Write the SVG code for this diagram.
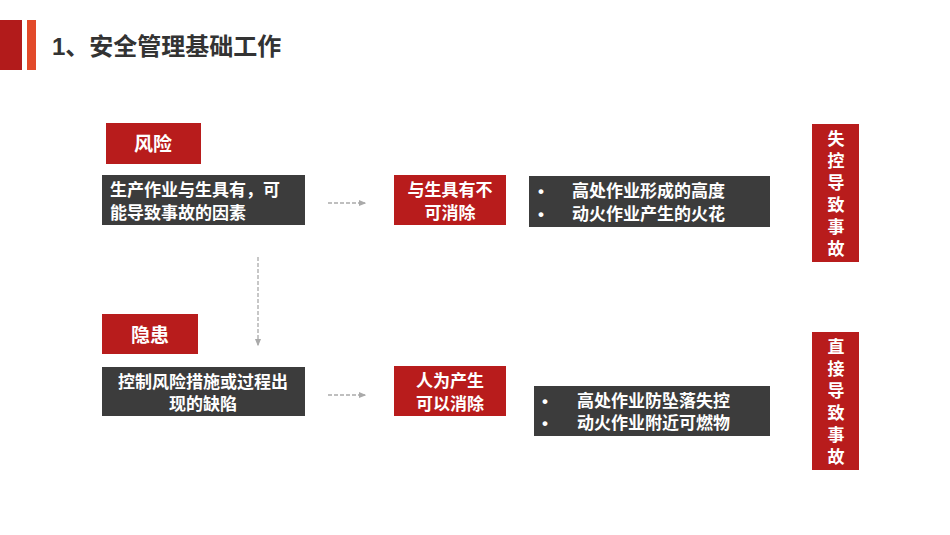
<svg xmlns="http://www.w3.org/2000/svg" width="950" height="535" viewBox="0 0 950 535">
<defs>
<style>
text{font-family:"Liberation Sans","Noto Sans CJK SC",sans-serif;font-weight:bold;fill:#fff}
.red{fill:#b81c1c}.dark{fill:#3c3c3c}
.t{font-size:17px}.big{font-size:19px}
.ln{stroke:#aaa;stroke-width:1.3;stroke-dasharray:4 2;fill:none}
</style>
<marker id="ar" markerWidth="6" markerHeight="6" refX="5" refY="3" orient="auto"><path d="M0,0.5 L6,3 L0,5.5z" fill="#aaa"/></marker>
</defs>
<rect width="950" height="535" fill="#fff"/>
<g id="title">
<rect x="0" y="20" width="22" height="50" fill="#b21b1b"/>
<rect x="27" y="20" width="9" height="50" fill="#e24a2a"/>
<text x="52" y="55" style="font-size:24px;fill:#333">1、安全管理基础工作</text>
</g>
<g id="connectors">
<line class="ln" x1="328" y1="203" x2="365" y2="203" marker-end="url(#ar)"/>
<line class="ln" x1="258" y1="257" x2="258" y2="345" marker-end="url(#ar)"/>
<line class="ln" x1="328" y1="395" x2="365" y2="395" marker-end="url(#ar)"/>
</g>
<g id="n1"><rect class="red" x="106" y="123" width="95" height="41"/><text class="big" x="153" y="151" text-anchor="middle">风险</text></g>
<g id="n2"><rect class="dark" x="102" y="175" width="203" height="50"/><text class="t" x="110" y="196">生产作业与生具有，可</text><text class="t" x="110" y="219">能导致事故的因素</text></g>
<g id="n3"><rect class="red" x="394" y="175" width="112" height="50"/><text class="t" x="450" y="196" text-anchor="middle">与生具有不</text><text class="t" x="450" y="219" text-anchor="middle">可消除</text></g>
<g id="n4"><rect class="dark" x="529" y="176" width="241" height="51"/><text class="t" x="538" y="197">•</text><text class="t" x="572" y="197">高处作业形成的高度</text><text class="t" x="538" y="220">•</text><text class="t" x="572" y="220">动火作业产生的火花</text></g>
<g id="n5"><rect class="red" x="102" y="314" width="96" height="40"/><text class="big" x="150" y="342" text-anchor="middle">隐患</text></g>
<g id="n6"><rect class="dark" x="102" y="367" width="203" height="49"/><text class="t" x="203" y="388" text-anchor="middle">控制风险措施或过程出</text><text class="t" x="203" y="410" text-anchor="middle">现的缺陷</text></g>
<g id="n7"><rect class="red" x="394" y="366" width="112" height="50"/><text class="t" x="450" y="387" text-anchor="middle">人为产生</text><text class="t" x="450" y="410" text-anchor="middle">可以消除</text></g>
<g id="n8"><rect class="dark" x="534" y="386" width="236" height="50"/><text class="t" x="542" y="407">•</text><text class="t" x="577" y="407">高处作业防坠落失控</text><text class="t" x="542" y="429">•</text><text class="t" x="577" y="429">动火作业附近可燃物</text></g>
<g id="n9"><rect class="red" x="812" y="124" width="47" height="138"/>
<text class="t" x="836" y="145" text-anchor="middle">失</text><text class="t" x="836" y="167" text-anchor="middle">控</text><text class="t" x="836" y="189" text-anchor="middle">导</text><text class="t" x="836" y="211" text-anchor="middle">致</text><text class="t" x="836" y="233" text-anchor="middle">事</text><text class="t" x="836" y="255" text-anchor="middle">故</text></g>
<g id="n10"><rect class="red" x="812" y="332" width="47" height="138"/>
<text class="t" x="836" y="353" text-anchor="middle">直</text><text class="t" x="836" y="375" text-anchor="middle">接</text><text class="t" x="836" y="397" text-anchor="middle">导</text><text class="t" x="836" y="419" text-anchor="middle">致</text><text class="t" x="836" y="441" text-anchor="middle">事</text><text class="t" x="836" y="463" text-anchor="middle">故</text></g>
</svg>
